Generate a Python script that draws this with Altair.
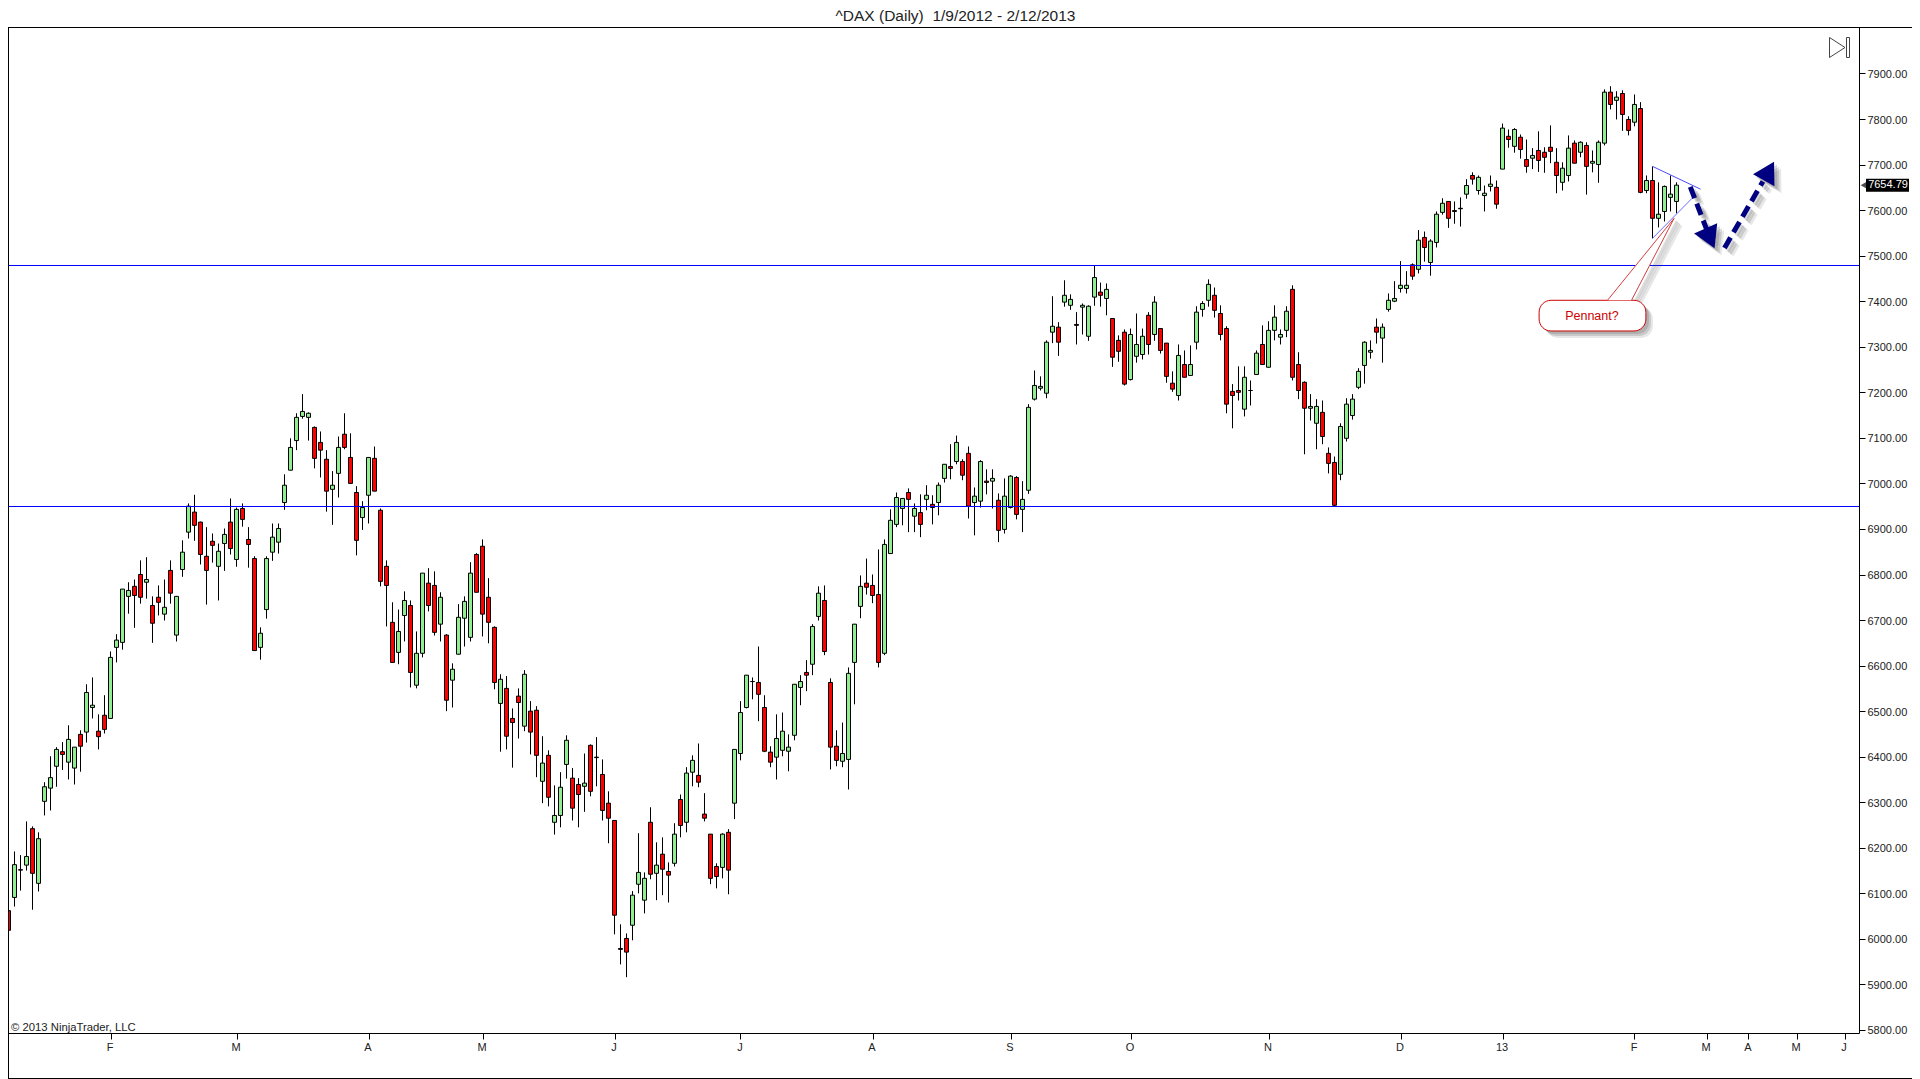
import altair as alt
import pandas as pd

opens = [6062,6091,6151,6162,6242,6122,6302,6331,6379,6411,6388,6375,6449,6454,6508,6456,6491,6484,6640,6651,
6752,6774,6800,6783,6732,6750,6713,6809,6667,6811,6893,6937,6915,6840,6873,6818,6868,6915,6833,6945,
6877,6835,6640,6723,6849,6871,6958,7029,7094,7147,7145,7123,7090,7053,6987,7022,7108,7057,6980,6925,
6974,7055,6941,6818,6695,6629,6710,6732,6557,6627,6781,6776,6691,6667,6568,6625,6704,6662,6844,6862,
6750,6684,6517,6550,6484,6533,6467,6500,6502,6346,6403,6256,6271,6383,6353,6339,6335,6425,6399,6361,
6298,6260,5979,6001,6030,6120,6085,6256,6144,6186,6148,6166,6306,6256,6366,6359,6274,6230,6159,6157,
6234,6298,6407,6508,6565,6563,6508,6410,6399,6414,6412,6447,6552,6585,6603,6708,6743,6563,6423,6390,
6394,6607,6730,6781,6776,6756,6627,6846,6910,6945,6980,6928,6936,6965,6954,6958,7011,7037,7048,7048,
7066,6958,6961,7005,7005,6963,6899,6947,7013,6943,6985,7185,7209,7198,7332,7343,7398,7391,7349,7387,
7323,7409,7420,7406,7362,7314,7332,7228,7279,7283,7369,7327,7340,7308,7220,7193,7261,7237,7310,7382,
7402,7413,7373,7340,7202,7204,7163,7204,7239,7305,7255,7336,7321,7336,7426,7261,7222,7165,7132,7156,
7066,7046,7020,7099,7149,7211,7259,7288,7343,7319,7382,7400,7428,7428,7480,7470,7540,7485,7529,7595,
7619,7599,7604,7635,7676,7643,7632,7652,7650,7690,7762,7740,7760,7711,7714,7731,7727,7738,7705,7661,
7676,7747,7727,7742,7703,7700,7747,7859,7841,7856,7799,7793,7823,7643,7665,7582,7597,7628,7619]
highs = [6078,6192,6184,6258,6247,6234,6344,6401,6421,6432,6469,6421,6458,6559,6574,6493,6535,6631,6669,6768,
6783,6789,6831,6838,6752,6776,6789,6831,6752,6875,6956,6975,6916,6904,6890,6868,6901,6967,6947,6956,
6904,6840,6684,6840,6912,6912,7020,7099,7154,7196,7156,7125,7114,7073,7027,7103,7154,7110,6994,6961,
7057,7081,6945,6831,6739,6723,6763,6743,6675,6803,6814,6807,6761,6669,6605,6735,6752,6827,6847,6877,
6792,6686,6581,6577,6506,6550,6590,6522,6511,6445,6414,6337,6366,6447,6375,6353,6407,6427,6443,6394,
6324,6260,6032,6012,6105,6232,6146,6289,6212,6223,6168,6254,6317,6377,6403,6429,6320,6230,6166,6232,
6241,6416,6522,6579,6574,6642,6535,6423,6493,6497,6449,6559,6579,6612,6691,6774,6776,6572,6458,6475,
6596,6691,6798,6835,6800,6855,6877,6943,6980,6967,6989,6956,6976,6996,6974,7002,7042,7086,7105,7053,
7081,6991,7051,7031,7031,6978,7011,7018,7016,7005,7174,7248,7235,7314,7411,7354,7446,7415,7376,7395,
7391,7479,7441,7439,7362,7325,7338,7340,7373,7340,7376,7411,7340,7308,7246,7305,7292,7303,7389,7400,
7448,7430,7391,7345,7218,7257,7257,7226,7292,7347,7356,7391,7338,7389,7435,7288,7224,7196,7185,7182,
7079,7059,7132,7187,7196,7253,7312,7314,7362,7351,7417,7444,7488,7466,7483,7556,7553,7536,7597,7626,
7619,7619,7628,7668,7683,7676,7654,7676,7665,7790,7777,7780,7766,7755,7736,7773,7738,7786,7736,7705,
7764,7753,7751,7749,7731,7753,7865,7872,7861,7863,7806,7854,7837,7676,7696,7661,7654,7676,7661]
lows = [5987,6071,6106,6150,6064,6104,6271,6282,6334,6371,6350,6339,6367,6431,6484,6416,6451,6484,6607,6635,
6714,6683,6736,6747,6650,6710,6699,6736,6653,6795,6879,6874,6822,6734,6826,6743,6808,6844,6817,6905,
6815,6633,6613,6703,6830,6846,6942,7029,7073,7142,7094,7033,7013,6938,6909,6969,7075,7000,6842,6898,
6912,6983,6774,6686,6607,6603,6653,6552,6550,6618,6719,6666,6653,6500,6508,6625,6642,6653,6761,6664,
6649,6548,6411,6416,6376,6440,6456,6405,6355,6298,6291,6229,6245,6352,6260,6245,6279,6313,6335,6260,
6210,6010,5944,5916,5997,6100,6056,6131,6085,6096,6080,6159,6223,6234,6335,6333,6258,6120,6111,6133,
6098,6263,6392,6506,6526,6478,6410,6377,6350,6401,6368,6436,6513,6544,6579,6699,6623,6372,6379,6377,
6328,6515,6704,6756,6737,6596,6623,6846,6904,6908,6893,6893,6882,6941,6910,6930,7002,7009,7042,7007,
6923,6886,6947,6976,6945,6871,6890,6945,6921,6893,6977,7182,7204,7187,7308,7280,7388,7381,7305,7327,
7313,7390,7388,7369,7256,7267,7215,7226,7265,7272,7283,7313,7285,7221,7201,7182,7233,7237,7294,7366,
7388,7364,7314,7154,7121,7182,7147,7171,7239,7261,7255,7314,7305,7321,7226,7185,7064,7138,7075,7086,
7022,6950,7007,7092,7140,7207,7219,7274,7307,7265,7377,7398,7419,7417,7447,7461,7487,7456,7518,7590,
7561,7570,7564,7625,7656,7634,7597,7641,7603,7690,7737,7726,7713,7682,7690,7684,7682,7703,7637,7643,
7663,7703,7716,7634,7683,7660,7742,7821,7799,7774,7764,7784,7637,7637,7538,7562,7575,7597,7593]
closes = [6019,6163,6152,6181,6144,6220,6334,6354,6416,6405,6438,6421,6423,6541,6513,6444,6460,6618,6656,6768,
6765,6754,6750,6789,6693,6739,6728,6759,6752,6849,6950,6908,6844,6809,6864,6851,6888,6857,6943,6921,
6866,6633,6671,6835,6882,6901,6996,7079,7145,7158,7154,7055,7073,6983,6996,7079,7079,7000,6875,6947,
7057,6983,6785,6776,6607,6675,6743,6585,6627,6803,6732,6673,6750,6524,6592,6706,6741,6803,6761,6713,
6695,6563,6570,6445,6475,6519,6581,6454,6403,6386,6311,6271,6333,6436,6287,6317,6342,6324,6398,6282,
6265,6052,5977,5971,6096,6146,6133,6142,6162,6153,6140,6230,6249,6364,6392,6344,6265,6133,6137,6230,
6151,6416,6497,6579,6565,6537,6412,6388,6440,6456,6421,6559,6565,6579,6686,6759,6631,6421,6392,6407,
6583,6691,6774,6772,6754,6607,6866,6919,6969,6967,6965,6945,6910,6974,6947,6996,7042,7033,7090,7018,
6950,6972,7048,7002,7011,6897,6972,7016,6932,6965,7167,7215,7213,7310,7345,7310,7413,7404,7347,7391,
7389,7452,7413,7426,7277,7290,7218,7327,7305,7323,7305,7398,7292,7235,7207,7281,7233,7261,7376,7395,
7437,7380,7327,7174,7193,7200,7233,7204,7286,7261,7336,7365,7327,7378,7233,7204,7165,7169,7169,7103,
7044,6952,7125,7174,7185,7246,7310,7292,7332,7343,7402,7406,7435,7435,7455,7534,7518,7532,7591,7615,
7582,7597,7603,7654,7668,7672,7637,7657,7613,7780,7755,7777,7733,7696,7720,7709,7716,7729,7676,7692,
7736,7703,7749,7696,7707,7749,7859,7832,7848,7810,7775,7832,7639,7665,7582,7591,7652,7635,7654.79]

price_ticks = list(range(5800, 8000, 100))
month_positions = [17, 38, 60, 79, 101, 122, 144, 167, 187, 210, 232, 249, 271, 283, 290, 298, 306]
month_labels = ["F", "M", "A", "M", "J", "J", "A", "S", "O", "N", "D", "13", "F", "M", "A", "M", "J"]
levels = [6949.3, 7478.4]
last_price = 7654.79

FONT = "Liberation Sans"
W, H = 1851, 1006
X_MAX = (W - 0.5) / 6
X_SCALE = alt.Scale(domain=[-0.5 / 6, X_MAX], nice=False, zero=False, padding=0)
Y_SCALE = alt.Scale(domain=[5793.41, 8002.0], nice=False, zero=False, padding=0)

df = pd.DataFrame({"i": range(len(opens)), "o": opens, "h": highs, "l": lows, "c": closes})
df["up"] = df["c"] >= df["o"]

expr = "{" + ",".join(f"'{p}':'{l}'" for p, l in zip(month_positions, month_labels)) + "}[datum.value]"

X_AXIS = alt.Axis(values=month_positions, labelExpr=expr, grid=False, title="", orient="bottom",
                  labelFont=FONT, labelFontSize=11, labelColor="#222", tickColor="black", domainColor="black",
                  tickSize=6, labelPadding=2, labelAngle=0, labelOffset=-1)
Y_AXIS = alt.Axis(values=price_ticks, format=".2f", grid=False, title="", orient="right",
                  labelFont=FONT, labelFontSize=11, labelColor="#222", tickColor="black", domainColor="black",
                  tickSize=6, labelPadding=2, labelOffset=1)


def X(f="i"):
    return alt.X(f"{f}:Q", scale=X_SCALE, axis=X_AXIS)


def Y(f="p"):
    return alt.Y(f"{f}:Q", scale=Y_SCALE, axis=Y_AXIS)


def seg_df(i1, p1, i2, p2):
    return pd.DataFrame({"i": [i1], "p": [p1], "i2": [i2], "p2": [p2]})


def seg(i1, p1, i2, p2, color, width, dash=None, off=0, opacity=1):
    kw = {"color": color, "strokeWidth": width, "opacity": opacity}
    if dash:
        kw["strokeDash"] = dash
    if off:
        kw.update(xOffset=off, x2Offset=off, yOffset=off, y2Offset=off)
    return alt.Chart(seg_df(i1, p1, i2, p2)).mark_rule(**kw).encode(
        x=X(), x2="i2:Q", y=Y(), y2="p2:Q")


def px(x1, y1, x2, y2, color="black", width=1):
    base = alt.Chart(pd.DataFrame({"a": [0]}))
    return base.mark_rule(color=color, strokeWidth=width).encode(
        x=alt.value(x1), x2=alt.value(x2), y=alt.value(y1), y2=alt.value(y2))


def head(i, p, size, angle, color, off=0, opacity=1):
    kw = dict(shape="triangle-up", filled=True, color=color, size=size, angle=angle, opacity=opacity)
    if off:
        kw.update(xOffset=off, yOffset=off)
    return alt.Chart(pd.DataFrame({"i": [i], "p": [p]})).mark_point(**kw).encode(x=X(), y=Y())


wicks = alt.Chart(df).mark_rule(color="black", strokeWidth=1).encode(x=X(), y=Y("h"), y2="l:Q")
bodies = alt.Chart(df).mark_bar(size=4, stroke="black", strokeWidth=1).encode(
    x=X(), y=Y("o"), y2="c:Q",
    color=alt.Color("up:N", scale=alt.Scale(domain=[True, False], range=["#90EE90", "#FF0000"]), legend=None),
)
hlines = [seg(-0.5 / 6, v, X_MAX, v, "#0000FF", 1) for v in levels]

pennant = [seg(274, 7696, 282, 7646, "#4A4AFF", 1), seg(274, 7538, 280.6, 7626, "#6A6AFF", 1)]

NAVY = "#000080"
SHADOW = "#555555"
shadows = []
for off, op in [(3, 0.22), (5, 0.2), (7, 0.14)]:
    shadows += [
        seg(280.3, 7651, 283.6, 7538, SHADOW, 5, dash=[12, 6], off=off, opacity=op),
        seg(286, 7517, 292.4, 7663, SHADOW, 5, dash=[12, 6], off=off, opacity=op),
        head(283.6, 7538, 640, 156, SHADOW, off=off, opacity=op),
        head(293.4, 7686, 600, 29, SHADOW, off=off, opacity=op),
        seg(277.6, 7582, 270.5, 7402, SHADOW, 3, off=off, opacity=op),
        alt.Chart(seg_df(255.1, 7402, 272.9, 7334.6)).mark_rect(
            color=SHADOW, opacity=op, cornerRadius=12,
            xOffset=off, x2Offset=off, yOffset=off, y2Offset=off).encode(x=X(), x2="i2:Q", y=Y(), y2="p2:Q"),
    ]

arrows = [
    seg(280.3, 7651, 283.6, 7538, NAVY, 5, dash=[12, 6]),
    seg(286, 7517, 292.4, 7663, NAVY, 5, dash=[12, 6]),
    head(283.6, 7538, 640, 156, NAVY),
    head(293.4, 7686, 600, 29, NAVY),
]

RED = "#CC0000"
bubble = alt.Chart(seg_df(255.1, 7402, 272.9, 7334.6)).mark_rect(
    fill="white", stroke=RED, strokeWidth=1, cornerRadius=12).encode(x=X(), x2="i2:Q", y=Y(), y2="p2:Q")
pointer_fill = alt.Chart(pd.DataFrame({
    "i": [266.5, 270.5, 277.6], "p": [7402, 7468, 7582], "p2": [7402, 7402, 7582]
})).mark_area(color="white", opacity=1, interpolate="linear").encode(x=X(), y=Y(), y2="p2:Q")
pointer = [seg(266.5, 7402, 277.6, 7582, "#D04040", 1), seg(270.5, 7402, 277.6, 7582, "#D04040", 1)]
bubble_text = alt.Chart(pd.DataFrame({"i": [263.9], "p": [7367.5], "t": ["Pennant?"]})).mark_text(
    font=FONT, fontSize=12.5, color=RED, align="center", baseline="middle").encode(x=X(), y=Y(), text="t:N")

tag_df = pd.DataFrame({"p": [last_price], "t": [f"{last_price:.2f}"]})
tag_box = alt.Chart(tag_df).mark_rect(color="black", height=13).encode(
    x=alt.value(1858), x2=alt.value(1901), y=Y())
tag_tip = alt.Chart(tag_df).mark_point(
    shape="triangle-left", filled=True, color="black", size=150).encode(x=alt.value(1858), y=Y())
tag_text = alt.Chart(tag_df).mark_text(
    font=FONT, fontSize=11, color="white", align="center", baseline="middle").encode(
    x=alt.value(1880), y=Y(), text="t:N")

frame = [
    px(0, 0.5, 1904, 0.5),
    px(0, 1051.5, 1904, 1051.5),
    px(0.5, 0, 0.5, 1052),
]
ICON = "#444444"
icon = [
    px(1821.5, 10.5, 1821.5, 30.5, ICON), px(1821.5, 10.5, 1837, 20.5, ICON), px(1821.5, 30.5, 1837, 20.5, ICON),
    px(1838.5, 10.5, 1841.5, 10.5, ICON), px(1838.5, 30.5, 1841.5, 30.5, ICON),
    px(1838.5, 10.5, 1838.5, 30.5, ICON), px(1841.5, 10.5, 1841.5, 30.5, ICON),
]
copyright_text = alt.Chart(pd.DataFrame({"t": ["\u00a9 2013 NinjaTrader, LLC"]})).mark_text(
    font=FONT, fontSize=11.3, color="#222", align="left", baseline="alphabetic").encode(
    x=alt.value(3), y=alt.value(1004), text="t:N")

layers = [wicks, bodies] + hlines + pennant + shadows + arrows + [bubble, pointer_fill] + pointer + [
    bubble_text, tag_box, tag_tip, tag_text, copyright_text] + frame + icon

chart = alt.layer(*layers).properties(
    width=W, height=H,
    title=alt.TitleParams("^DAX (Daily)\u00a0 1/9/2012 - 2/12/2013", anchor="middle", frame="group",
                          font=FONT, fontSize=15.5, fontWeight="normal", color="#222", offset=2, dx=22),
    autosize=alt.AutoSizeParams(type="none"),
    padding={"left": 0, "top": 19, "right": 53, "bottom": 46},
    background="white",
).configure_view(stroke=None)

chart.save("out.html", embed_options={"renderer": "svg", "actions": False})
